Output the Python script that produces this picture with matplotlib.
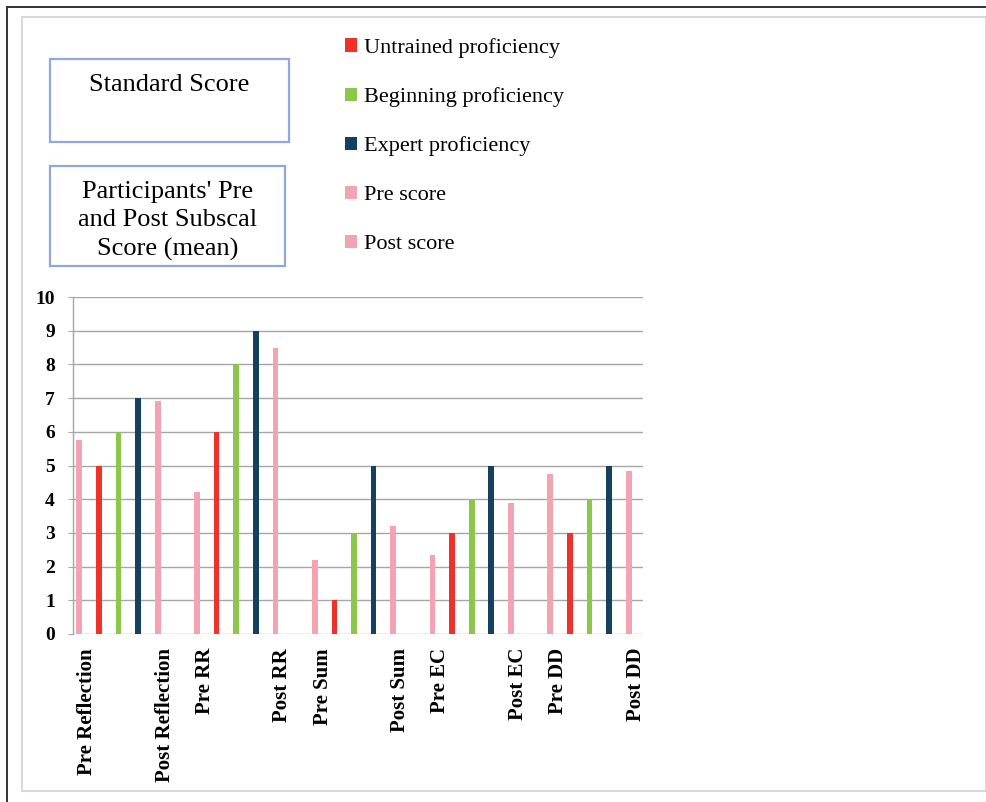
import matplotlib.pyplot as plt
from matplotlib.patches import Rectangle
from matplotlib.lines import Line2D

W, H = 987, 802

subscales = ["Reflection", "RR", "Sum", "EC", "DD"]
pre_score = [5.75, 4.2, 2.2, 2.35, 4.75]
post_score = [6.9, 8.5, 3.2, 3.9, 4.85]
untrained = [5, 6, 1, 3, 3]
beginning = [6, 8, 3, 4, 4]
expert = [7, 9, 5, 5, 5]
y_ticks = list(range(0, 11))

PINK = "#F4A3B1"
RED = "#EE3129"
GREEN = "#8DC74A"
NAVY = "#154060"
SERIF = "Liberation Serif"


def fx(x):
    return x / W


def fy(y):
    return 1 - y / H


fig = plt.figure(figsize=(W / 100, H / 100), dpi=100)
fig.patch.set_facecolor("white")

# outer frame: dark top/left edge and a light inner rectangle
fig.add_artist(Line2D([fx(8), fx(987)], [fy(7), fy(7)], color="#333333", lw=1.4))
fig.add_artist(Line2D([fx(7), fx(7)], [fy(7), fy(802)], color="#333333", lw=1.4))
fig.add_artist(Rectangle((fx(22), fy(791)), fx(986) - fx(22), fy(17) - fy(791),
                         fill=False, ec="#D9D9D9", lw=1.5))

ax = fig.add_axes([fx(73), fy(634), fx(643) - fx(73), fy(297) - fy(634)])

slot = 6
base = [i * slot for i in range(len(subscales))]
w = 0.29
ax.bar([b for b in base], pre_score, width=w, color=PINK, zorder=3, label="Pre score")
ax.bar([b + 1 for b in base], untrained, width=w, color=RED, zorder=3, label="Untrained proficiency")
ax.bar([b + 2 for b in base], beginning, width=w, color=GREEN, zorder=3, label="Beginning proficiency")
ax.bar([b + 3 for b in base], expert, width=w, color=NAVY, zorder=3, label="Expert proficiency")
ax.bar([b + 4 for b in base], post_score, width=w, color=PINK, zorder=3, label="Post score")

ax.set_xlim(-0.32, 28.73)
ax.set_ylim(0, 10)
ax.set_yticks(y_ticks)
ax.yaxis.grid(True, color="#A6A6A6", lw=1.0, zorder=0)
ax.set_axisbelow(True)
for s in ["top", "right", "bottom"]:
    ax.spines[s].set_visible(False)
ax.spines["left"].set_color("#A6A6A6")
ax.spines["left"].set_linewidth(1.0)
ax.tick_params(axis="y", length=3.5, color="#A6A6A6", pad=9.5, labelsize=14)
for t in ax.get_yticklabels():
    t.set_fontfamily(SERIF)
    t.set_fontweight("bold")

xt, xl = [], []
for b, name in zip(base, subscales):
    xt += [b + 0.4, b + 4.35]
    xl += [f"Pre {name}", f"Post {name}"]
ax.set_xticks(xt)
ax.set_xticklabels(xl, rotation=90, va="top", ha="center",
                   fontsize=15, fontweight="bold", fontfamily=SERIF)
ax.tick_params(axis="x", length=0, pad=10)

# title boxes
fig.add_artist(Rectangle((fx(50), fy(142)), fx(289) - fx(50), fy(59) - fy(142),
                         fill=False, ec="#8EA9DB", lw=1.6))
fig.text(fx(169), fy(85), "Standard Score", ha="center", va="center",
         fontsize=19, fontfamily=SERIF)
fig.add_artist(Rectangle((fx(50), fy(266)), fx(285) - fx(50), fy(166) - fy(266),
                         fill=False, ec="#8EA9DB", lw=1.6))
fig.text(fx(168), fy(221), "Participants' Pre\nand Post Subscal\nScore (mean)",
         ha="center", va="center", fontsize=19, fontfamily=SERIF, linespacing=1.4)

handles, labels = ax.get_legend_handles_labels()
order = [1, 2, 3, 0, 4]
leg = fig.legend([handles[i] for i in order], [labels[i] for i in order],
                 loc="upper left", bbox_to_anchor=(fx(345), fy(38)),
                 frameon=False, prop={"family": SERIF, "size": 16},
                 handlelength=0.55, handleheight=0.55, handletextpad=0.3,
                 labelspacing=1.32, borderpad=0, borderaxespad=0)

fig.savefig("out.png", dpi=100)
